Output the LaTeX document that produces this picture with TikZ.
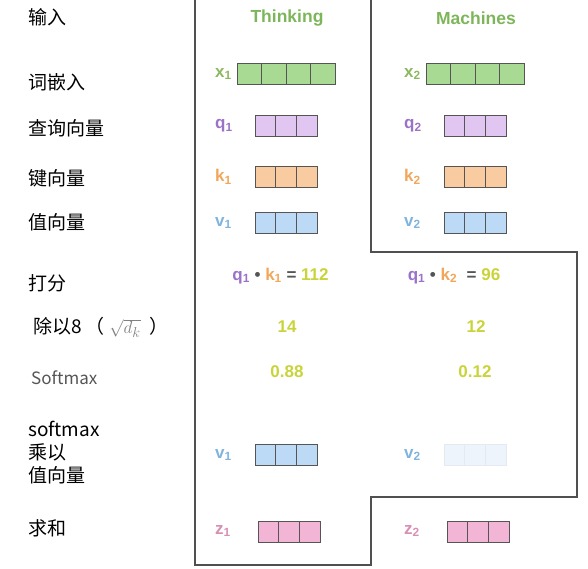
\documentclass[tikz,border=0pt]{standalone}
\usepackage{fontspec}
\setmainfont{Liberation Sans}
\newfontfamily\cjk{Noto Sans CJK SC}
\usepackage{tikz}
\definecolor{hdrgreen}{HTML}{7DB65A}
\definecolor{xgreen}{HTML}{8DB860}
\definecolor{xfill}{HTML}{A9DA93}
\definecolor{qpurple}{HTML}{9B72C7}
\definecolor{qfill}{HTML}{E2C6F2}
\definecolor{korange}{HTML}{F2A65A}
\definecolor{kfill}{HTML}{F8CBA0}
\definecolor{vblue}{HTML}{80B4DC}
\definecolor{vfill}{HTML}{BCDAF6}
\definecolor{vfade}{HTML}{EEF4FB}
\definecolor{vfadeline}{HTML}{E3EAF2}
\definecolor{zpink}{HTML}{D88FB4}
\definecolor{zfill}{HTML}{F3B5D5}
\definecolor{numyellow}{HTML}{C9D33A}
\definecolor{eqgray}{HTML}{555555}
\definecolor{cellgray}{HTML}{555555}
\definecolor{linegray}{HTML}{505050}
\tikzset{
    rowlabel/.style={anchor=west, inner sep=0pt, align=left,
        font=\cjk\fontsize{19}{23}\selectfont},
    colhead/.style={inner sep=0pt, text=hdrgreen,
        font=\fontsize{17.5}{20}\selectfont\bfseries},
    veclabel/.style={anchor=west, inner sep=0pt,
        font=\fontsize{17}{20}\selectfont\bfseries},
    numtext/.style={inner sep=0pt, text=numyellow,
        font=\fontsize{17}{20}\selectfont\bfseries},
    cell/.style={draw=cellgray, line width=0.8pt},
    outline/.style={draw=linegray, line width=1.2pt},
}

\begin{document}
\begin{tikzpicture}[x=1pt, y=-1pt]
    \useasboundingbox (0,0) rectangle (588,569);
    % frame round the words
    \draw[outline] (195,0) -- (195,565) -- (371,565) -- (371,497) -- (577,497)
        -- (577,252) -- (371,252) -- (371,0);
    % row labels
    \node[rowlabel] (inp) at (28,17.5) {输入};
    \node[rowlabel] (emb) at (28,82) {词嵌入};
    \node[rowlabel] (qry) at (28,128) {查询向量};
    \node[rowlabel] (key) at (28,178) {键向量};
    \node[rowlabel] (val) at (28,222) {值向量};
    \node[rowlabel] (scr) at (28,283) {打分};
    \node[rowlabel] (dvd) at (33,327) {除以8 （ {\color{gray}$\sqrt{d_k}$} \ ）};
    \node[rowlabel, text=eqgray, font=\cjk\fontsize{17}{20}\selectfont] (smx) at (31,378) {Softmax};
    \node[rowlabel] (mul) at (28,453) {softmax\\乘以\\值向量};
    \node[rowlabel] (sum) at (28,528) {求和};
    % column heads
    \node[colhead] (thk) at (287,18) {Thinking};
    \node[colhead] (mch) at (476,18) {Machines};
    % vectors
    \foreach \bx/\by/\n/\w/\fc in {237/63/4/24.5/xfill, 426/63/4/24.5/xfill,
        255/115/3/20.7/qfill, 444/115/3/20.7/qfill,
        255/166/3/20.7/kfill, 444/166/3/20.7/kfill,
        255/212/3/20.7/vfill, 444/212/3/20.7/vfill,
        255/444/3/20.7/vfill,
        258/521/3/20.7/zfill, 447/521/3/20.7/zfill}
        \foreach \i in {1,...,\n}
            \draw[cell, fill=\fc] ({\bx+(\i-1)*\w},\by) rectangle ++(\w,21);
    \foreach \i in {1,...,3}
        \draw[cell, fill=vfade, draw=vfadeline] ({444+(\i-1)*20.7},444) rectangle ++(20.7,21);
    % vector names
    \node[veclabel, text=xgreen] (x1) at (215,74) {x\textsubscript{1}};
    \node[veclabel, text=xgreen] (x2) at (404,74) {x\textsubscript{2}};
    \node[veclabel, text=qpurple] (q1) at (215,126) {q\textsubscript{1}};
    \node[veclabel, text=qpurple] (q2) at (404,126) {q\textsubscript{2}};
    \node[veclabel, text=korange] (k1) at (215,177) {k\textsubscript{1}};
    \node[veclabel, text=korange] (k2) at (404,177) {k\textsubscript{2}};
    \node[veclabel, text=vblue] (v1) at (215,223) {v\textsubscript{1}};
    \node[veclabel, text=vblue] (v2) at (404,223) {v\textsubscript{2}};
    \node[veclabel, text=vblue] (w1) at (215,455) {v\textsubscript{1}};
    \node[veclabel, text=vblue] (w2) at (404,455) {v\textsubscript{2}};
    \node[veclabel, text=zpink] (z1) at (215,531) {z\textsubscript{1}};
    \node[veclabel, text=zpink] (z2) at (404,531) {z\textsubscript{2}};
    % scores
    \node[numtext] (s1) at (280.5,276) {\color{qpurple}q\textsubscript{1}\ 
        \color{eqgray}•\ \color{korange}k\textsubscript{1}\ \color{eqgray}= \color{numyellow}112};
    \node[numtext] (s2) at (454,276) {\color{qpurple}q\textsubscript{1}\ 
        \color{eqgray}•\ \color{korange}k\textsubscript{2}\ \ \color{eqgray}= \color{numyellow}96};
    \node[numtext] (d1) at (287,327) {14};
    \node[numtext] (d2) at (476,327) {12};
    \node[numtext] (p1) at (287,372) {0.88};
    \node[numtext] (p2) at (475,372) {0.12};
\end{tikzpicture}
\end{document}
